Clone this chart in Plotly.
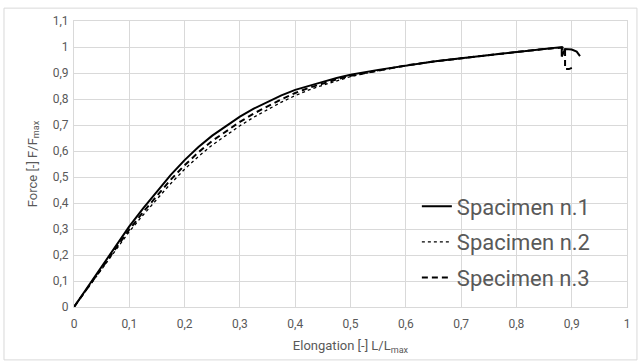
import plotly.graph_objects as go

# Specimen n.1 (solid)
x1 = [0, 0.05, 0.1, 0.125, 0.15, 0.175, 0.2, 0.225, 0.25, 0.275, 0.3, 0.325, 0.35, 0.375, 0.4, 0.425, 0.45, 0.475, 0.5,
      0.55, 0.6, 0.65, 0.7, 0.75, 0.8, 0.85, 0.875, 0.882, 0.882, 0.888, 0.9, 0.909, 0.915]
y1 = [0, 0.155, 0.31, 0.379, 0.445, 0.508, 0.565, 0.615, 0.659, 0.697, 0.732, 0.763, 0.79, 0.814, 0.835, 0.852, 0.866, 0.881, 0.893,
      0.912, 0.929, 0.944, 0.957, 0.969, 0.981, 0.992, 0.998, 1.0, 0.963, 0.992, 0.99, 0.982, 0.965]
# Specimen n.2 (dotted)
x2 = [0, 0.05, 0.1, 0.125, 0.15, 0.175, 0.2, 0.225, 0.25, 0.275, 0.3, 0.325, 0.35, 0.375, 0.4, 0.425, 0.45, 0.475, 0.5,
      0.55, 0.6, 0.65, 0.7, 0.75, 0.8, 0.85, 0.878, 0.885]
y2 = [0, 0.145, 0.29, 0.354, 0.415, 0.475, 0.53, 0.579, 0.623, 0.661, 0.697, 0.73, 0.76, 0.788, 0.813, 0.835, 0.853, 0.871, 0.886,
      0.909, 0.928, 0.944, 0.957, 0.969, 0.981, 0.992, 0.998, 0.99]
# Specimen n.3 (dashed)
x3 = [0, 0.05, 0.1, 0.125, 0.15, 0.175, 0.2, 0.225, 0.25, 0.275, 0.3, 0.325, 0.35, 0.375, 0.4, 0.425, 0.45, 0.475, 0.5,
      0.55, 0.6, 0.65, 0.7, 0.75, 0.8, 0.85, 0.88, 0.888, 0.888, 0.895, 0.904]
y3 = [0, 0.15, 0.298, 0.365, 0.429, 0.49, 0.545, 0.595, 0.639, 0.677, 0.712, 0.744, 0.773, 0.799, 0.823, 0.843, 0.859, 0.876, 0.889,
      0.91, 0.929, 0.944, 0.957, 0.969, 0.981, 0.992, 0.999, 0.998, 0.915, 0.915, 0.923]

names = ["Spacimen n.1", "Spacimen n.2", "Specimen n.3"]

xticks = [0, 0.1, 0.2, 0.3, 0.4, 0.5, 0.6, 0.7, 0.8, 0.9, 1]
xtick_text = ["0", "0,1", "0,2", "0,3", "0,4", "0,5", "0,6", "0,7", "0,8", "0,9", "1"]
yticks = [0, 0.1, 0.2, 0.3, 0.4, 0.5, 0.6, 0.7, 0.8, 0.9, 1, 1.1]
ytick_text = ["0", "0,1", "0,2", "0,3", "0,4", "0,5", "0,6", "0,7", "0,8", "0,9", "1", "1,1"]

fig = go.Figure()
fig.add_trace(go.Scatter(x=x1, y=y1, mode="lines", name=names[0], legendgroup="a",
                         line=dict(color="black", width=2, dash="solid")))
fig.add_trace(go.Scatter(x=x2, y=y2, mode="lines", name=names[1], legendgroup="b",
                         line=dict(color="black", width=1.3, dash="dot")))
fig.add_trace(go.Scatter(x=x3, y=y3, mode="lines", name=names[2], legendgroup="c",
                         line=dict(color="black", width=2, dash="6px,4px")))

grid = "#d9d9d9"
tickfont = dict(family="Roboto", size=12, color="#595959")
fig.update_layout(
    width=638, height=361,
    margin=dict(l=74, r=11, t=21, b=54),
    paper_bgcolor="white", plot_bgcolor="white",
    font=dict(family="Roboto", color="#595959"),
    showlegend=True,
    legend=dict(x=0.62, y=0.425, xanchor="left", yanchor="top",
                font=dict(family="Roboto", size=22, color="#595959"),
                traceorder="grouped", tracegroupgap=4,
                bgcolor="rgba(255,255,255,0)", itemwidth=30),
    xaxis=dict(range=[0, 1], tickvals=xticks, ticktext=xtick_text, tickfont=tickfont,
               showgrid=True, gridcolor=grid, gridwidth=1, zeroline=False, automargin=False,
               showline=True, linecolor=grid, mirror=True,
               ticks="outside", ticklen=6, tickcolor="rgba(0,0,0,0)",
               title=dict(text="Elongation [-] L/L<sub>max</sub>", font=dict(size=13, color="#595959"), standoff=10)),
    yaxis=dict(range=[0, 1.1], tickvals=yticks, ticktext=ytick_text, tickfont=tickfont,
               showgrid=True, gridcolor=grid, gridwidth=1, zeroline=False, automargin=False,
               showline=True, linecolor=grid, mirror=True,
               ticks="outside", ticklen=2, tickcolor="rgba(0,0,0,0)",
               title=dict(text="Force [-] F/F<sub>max</sub>", font=dict(size=13, color="#595959"), standoff=12)),
    shapes=[dict(type="rect", xref="paper", yref="paper",
                 x0=-0.1266, x1=1.018, y0=-0.185, y1=1.045,
                 line=dict(color=grid, width=1), fillcolor="rgba(0,0,0,0)", layer="below")],
)

fig.write_html("out.html", config={"displayModeBar": False},
               post_script="document.body.style.margin='0';document.body.style.overflow='hidden';")
